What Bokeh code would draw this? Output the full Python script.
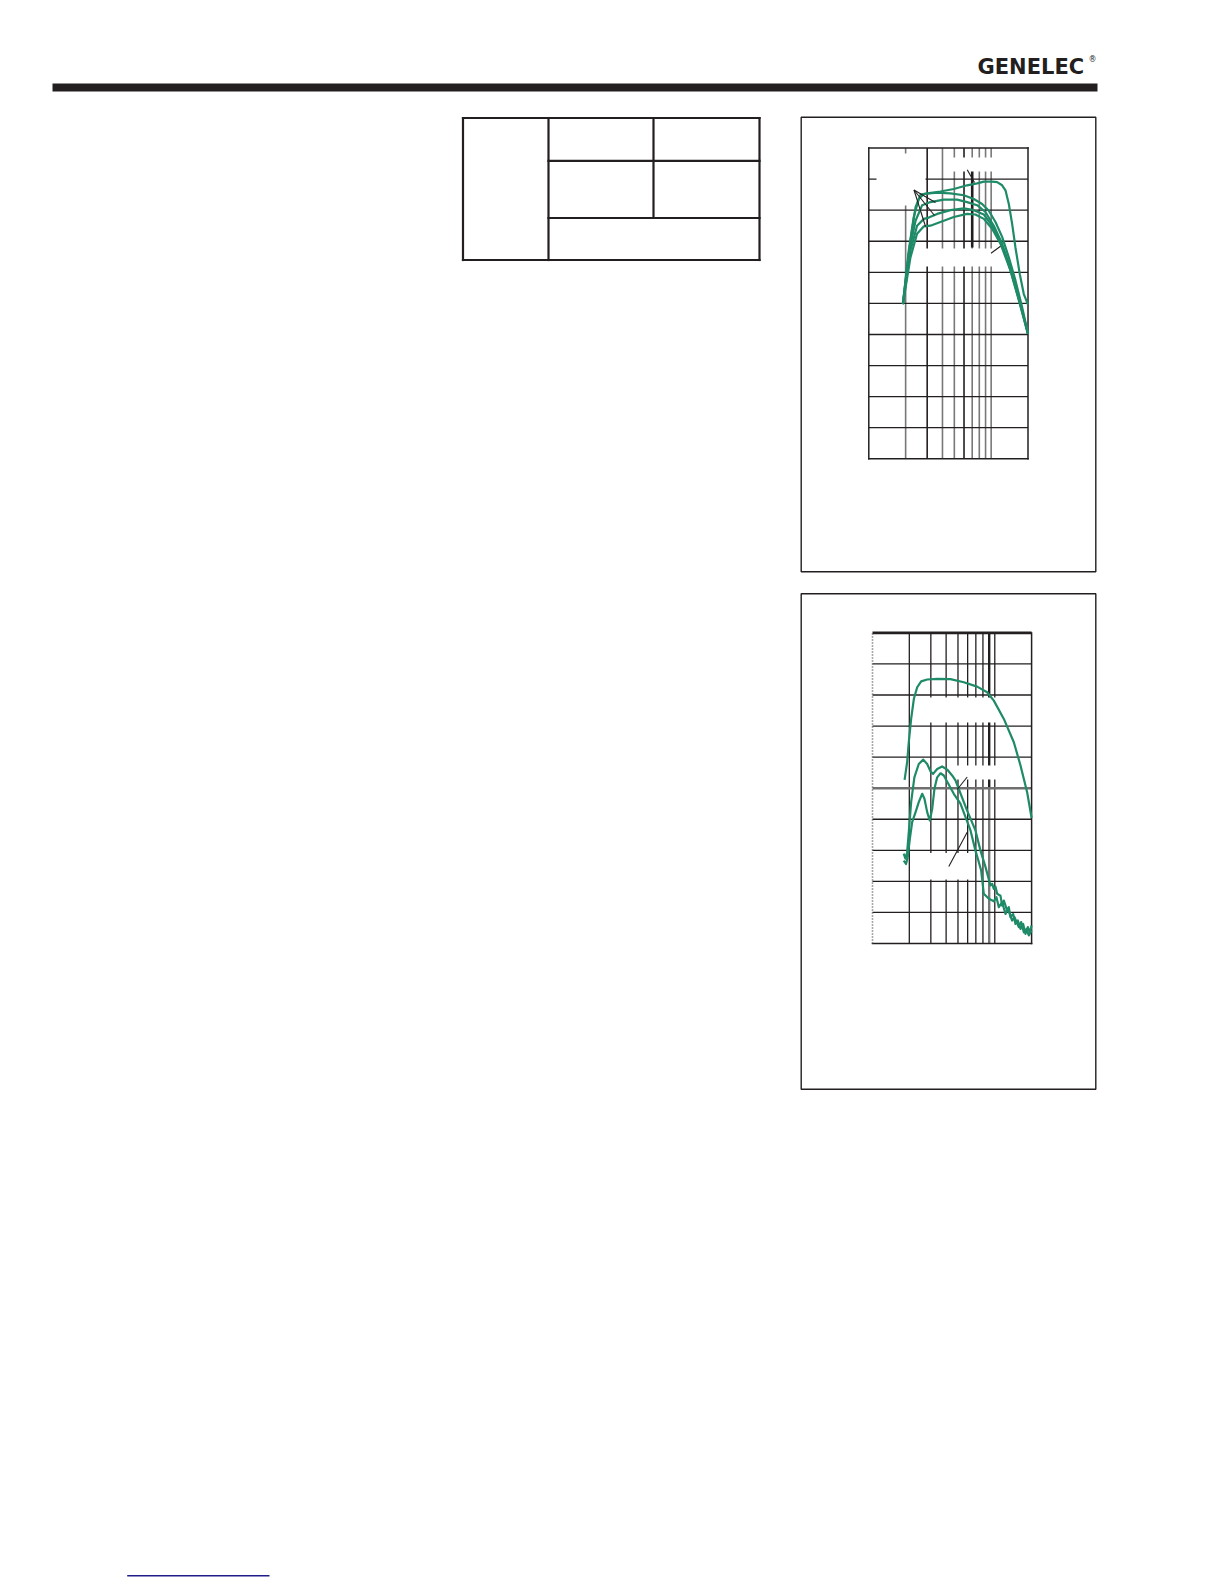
import math
from bokeh.plotting import figure
from bokeh.models import Range1d, LogScale, LinearScale, Label, Grid
from bokeh.embed import file_html
from bokeh.resources import INLINE

# ---------------- data ----------------
# shared frequency axis (Hz, log) of both charts
freq_min, freq_max = 10, 200
freq_grid = [20, 30, 40, 50, 60, 70, 80, 90, 100]

# chart 1: frequency response, dB
resp_min, resp_max = 60, 110
resp_grid = [65, 70, 75, 80, 85, 90, 95, 100, 105]

resp1_f = [19.0, 21.9, 24.1, 26.5, 30.0, 38.5, 49.5, 63.6, 76.8, 87.1, 101.8, 111.9,
           122.9, 130.9, 139.4, 148.4, 157.9, 171.4, 184.8, 200.0]
resp1_db = [84.9, 95.1, 100.5, 102.5, 102.7, 103.0, 103.4, 104.0, 104.3, 104.6, 104.6, 104.5,
            104.0, 103.2, 101.0, 97.8, 94.0, 89.7, 86.5, 84.8]

resp2_f = [19.0, 21.2, 23.3, 25.6, 28.2, 36.2, 46.5, 59.8, 72.1, 84.4, 95.7, 108.4,
           122.9, 139.4, 157.9, 179.1, 200.0]
resp2_db = [84.9, 93.5, 98.9, 101.8, 102.6, 102.8, 102.7, 102.4, 101.8, 101.0, 99.9, 98.1,
            95.7, 92.4, 88.7, 84.4, 80.1]

resp3_f = [19.0, 21.2, 24.1, 27.3, 31.9, 41.0, 52.7, 63.6, 76.8, 89.8, 105.1, 122.9,
           143.8, 168.2, 200.0]
resp3_db = [84.9, 93.0, 98.3, 100.8, 101.3, 101.7, 101.7, 101.3, 100.8, 99.7, 97.5, 94.6,
            90.3, 85.5, 80.1]

resp4_f = [19.0, 21.9, 24.8, 28.2, 30.9, 36.2, 46.5, 59.8, 72.1, 87.1, 101.8, 119.1,
           143.8, 168.2, 200.0]
resp4_db = [84.9, 93.5, 97.5, 98.6, 98.8, 99.4, 100.0, 100.3, 100.0, 99.3, 97.5, 95.1,
            90.8, 86.0, 80.1]

resp5_f = [19.0, 21.9, 24.8, 28.2, 31.9, 38.5, 49.5, 63.6, 74.4, 87.1, 101.8, 119.1,
           143.8, 168.2, 200.0]
resp5_db = [84.9, 92.4, 96.2, 97.4, 97.5, 98.1, 98.9, 99.4, 99.3, 98.6, 97.0, 94.6,
            90.3, 85.7, 80.1]

# chart 2: fundamental and harmonic distortion, dB
dist_min, dist_max = 10, 110
dist_grid = [20, 30, 40, 50, 60, 70, 80, 90, 100]

fund_f = [18.3, 19.2, 19.8, 20.7, 21.8, 23.2, 25.0, 28.0, 33.8, 43.4, 55.8, 71.7, 86.6,
          98.2, 118.6, 143.1, 162.3, 183.9, 200.0]
fund_db = [62.7, 68.4, 74.8, 82.3, 88.8, 92.5, 94.4, 95.0, 95.2, 95.1, 94.1, 92.7, 90.9,
           88.2, 82.3, 74.8, 67.3, 58.7, 50.4]

h2_f = [18.0, 18.6, 19.2, 19.8, 20.7, 22.0, 23.9, 26.0, 28.0, 29.8, 31.3, 33.8, 37.1, 40.8,
        44.8, 47.7, 59.4, 69.5, 76.4, 84.0, 92.2, 95.2, 98.2, 101.3, 104.6, 111.3, 114.9,
        118.6, 126.2, 130.2, 134.4, 141.3, 147.7, 154.3, 162.3, 170.6, 178.2, 186.3, 193.4, 200.0]
h2_db = [38.9, 37.3, 39.4, 45.8, 55.5, 63.5, 67.8, 69.2, 67.8, 65.4, 64.6, 66.2, 67.0, 66.0,
         64.1, 62.5, 52.8, 46.4, 39.9, 34.6, 28.7, 29.2, 27.6, 28.3, 26.0, 25.4, 22.2,
         23.8, 20.6, 21.7, 18.5, 19.5, 16.3, 17.4, 14.7, 16.3, 13.1, 15.3, 13.6, 15.8]

h3_f = [18.0, 18.8, 19.4, 20.2, 21.1, 22.5, 23.9, 25.5, 26.6, 28.0, 29.4, 30.8, 32.1, 33.8,
        36.0, 38.3, 40.3, 46.2, 52.4, 63.3, 69.5, 72.7, 77.4, 81.3, 89.4, 98.2, 103.2,
        107.9, 114.9, 122.3, 127.8, 138.7, 145.0, 157.2, 164.3, 172.8, 181.7, 189.8, 200.0]
h3_db = [36.7, 35.6, 37.8, 43.7, 49.1, 52.3, 55.5, 58.2, 56.6, 52.3, 49.6, 53.4, 59.8, 63.5,
         64.8, 64.1, 62.5, 58.2, 55.0, 46.4, 39.9, 37.3, 33.5, 26.0, 24.4, 23.6, 24.9,
         21.7, 23.3, 19.5, 21.2, 17.4, 18.5, 15.3, 16.9, 13.6, 14.7, 12.6, 14.2]

# ---------------- page layout (reference pixel coordinates) ----------------
W, H = 1216, 1580
X0, X1 = 0, W
Y0, Y1 = 0, H

INK = "#231f20"
GREEN = "#1f8a68"
GREY = "#787878"

p = figure(width=W, height=H, x_range=Range1d(X0, X1), y_range=Range1d(Y1, Y0),
           output_backend="svg", toolbar_location=None, min_border=0,
           x_axis_location=None, y_axis_location=None)
p.center = [r for r in p.center if not isinstance(r, Grid)]
p.outline_line_color = None
p.background_fill_color = "white"
p.border_fill_color = "white"


def chart_ranges(box, fmin, fmax, vmin, vmax):
    left, right, top, bottom = box
    lo, hi = math.log10(fmin), math.log10(fmax)
    ppd = (right - left) / (hi - lo)
    s = lo - (left - X0) / ppd
    e = lo + (X1 - left) / ppd
    ppv = (bottom - top) / (vmax - vmin)
    vb = vmin - (Y1 - bottom) / ppv
    vt = vmax + (top - Y0) / ppv
    return Range1d(10 ** s, 10 ** e), Range1d(vb, vt)


BOX1 = (868.3, 1027.5, 147.5, 458.3)
BOX2 = (872.0, 1031.1, 632.4, 943.0)
xr1, yr1 = chart_ranges(BOX1, freq_min, freq_max, resp_min, resp_max)
xr2, yr2 = chart_ranges(BOX2, freq_min, freq_max, dist_min, dist_max)
p.extra_x_ranges = {"c1": xr1, "c2": xr2}
p.extra_y_ranges = {"c1": yr1, "c2": yr2}
p.extra_x_scales = {"c1": LogScale(), "c2": LogScale()}
p.extra_y_scales = {"c1": LinearScale(), "c2": LinearScale()}
k1 = dict(x_range_name="c1", y_range_name="c1")
k2 = dict(x_range_name="c2", y_range_name="c2")

# header bar and logo
p.quad(left=[52], right=[1097], top=[83], bottom=[91], fill_color=INK, line_color=None)
p.add_layout(Label(x=977, y=66, text="GENELEC", text_font="DejaVu Sans",
                   text_font_style="bold", text_font_size="21px", text_color=INK,
                   text_baseline="alphabetic", text_align="left"))
p.add_layout(Label(x=1088, y=59, text="®", text_font="DejaVu Sans",
                   text_font_size="8px", text_color=INK,
                   text_baseline="alphabetic", text_align="left"))

# table outline
p.segment(x0=[462.5, 462.5, 462.5, 759, 548, 653, 548, 548],
          x1=[759, 759, 462.5, 759, 548, 653, 759, 759],
          y0=[117.5, 259.5, 117.5, 117.5, 117.5, 117.5, 160.4, 217.5],
          y1=[117.5, 259.5, 259.5, 259.5, 259.5, 217.5, 160.4, 217.5],
          line_color=INK, line_width=2.2, line_cap="square")

# panel boxes
for top, bottom in [(116.7, 571.3), (593.3, 1088.7)]:
    p.quad(left=[800.7], right=[1095.3], top=[top], bottom=[bottom],
           fill_color=None, line_color=INK, line_width=1.4)

# footer link line
p.segment(x0=[126.7], x1=[269], y0=[1575.3], y1=[1575.3], line_color="#1e1e8a", line_width=1.4)

# ---- chart 1 grid ----
n = len(freq_grid)
c1_vcol = [GREY, INK, GREY, GREY, INK, GREY, GREY, GREY, GREY]
p.segment(x0=freq_grid, x1=freq_grid, y0=[resp_min] * n, y1=[resp_max] * n,
          line_color=c1_vcol, line_width=1.6, **k1)
p.segment(x0=[70], x1=[70], y0=[94.0], y1=[106.4], line_color=INK, line_width=2.6, **k1)
m = len(resp_grid)
p.segment(x0=[freq_min] * m, x1=[freq_max] * m, y0=resp_grid, y1=resp_grid,
          line_color=INK, line_width=1.3, **k1)

# ---- chart 2 grid ----
p.segment(x0=freq_grid, x1=freq_grid, y0=[dist_min] * n, y1=[dist_max] * n,
          line_color=INK, line_width=1.3, **k2)
p.segment(x0=[90, 90], x1=[90, 90], y0=[60, dist_min], y1=[dist_max, 60],
          line_color=[INK, GREY], line_width=2.4, **k2)
m2 = len(dist_grid)
p.segment(x0=[freq_min] * m2, x1=[freq_max] * m2, y0=dist_grid, y1=dist_grid,
          line_color=[INK, INK, INK, INK, "#707070", INK, INK, INK, INK],
          line_width=[1.3, 1.3, 1.3, 1.3, 2.4, 1.3, 1.3, 1.3, 1.3], **k2)

# white label backgrounds that interrupt the grid (from the original page)
p.quad(left=[876, 950, 924, 926, 955, 926], right=[925, 994, 992, 997, 997, 970],
       top=[153, 157, 248, 697, 765, 852.5], bottom=[205, 171, 266, 722, 779, 879],
       fill_color="white", line_color=None)

# chart frames
p.segment(x0=[freq_min, freq_min, freq_max, freq_min], x1=[freq_max, freq_max, freq_max, freq_min],
          y0=[resp_max, resp_min, resp_min, resp_min], y1=[resp_max, resp_min, resp_max, resp_max],
          line_color=INK, line_width=1.5, line_cap="square", **k1)
p.segment(x0=[freq_min, freq_max], x1=[freq_max, freq_max],
          y0=[dist_min, dist_min], y1=[dist_min, dist_max],
          line_color=INK, line_width=1.5, line_cap="square", **k2)
p.segment(x0=[freq_min], x1=[freq_max], y0=[dist_max], y1=[dist_max],
          line_color=INK, line_width=2.6, **k2)
p.segment(x0=[freq_min], x1=[freq_min], y0=[dist_min], y1=[dist_max],
          line_color="#555555", line_width=1.6, line_dash="1 2", **k2)

# ---- curves ----
for fx, dy in [(resp1_f, resp1_db), (resp2_f, resp2_db), (resp3_f, resp3_db),
               (resp4_f, resp4_db), (resp5_f, resp5_db)]:
    p.line(fx, dy, line_color=GREEN, line_width=2.2, line_join="round", **k1)

for fx, dy in [(fund_f, fund_db), (h2_f, h2_db), (h3_f, h3_db)]:
    p.line(fx, dy, line_color=GREEN, line_width=2.2, line_join="round", **k2)

# leader lines of the (removed) curve labels
p.segment(x0=[913.5, 913.5, 913.5, 966.7, 990.5, 948.3, 956.7],
          x1=[935, 934, 925, 974, 1000, 966.7, 966.7],
          y0=[189.5, 189.5, 189.5, 169.3, 252.7, 866, 789],
          y1=[202, 215, 226, 182, 245.7, 831.7, 776.5],
          line_color=INK, line_width=1.1)

open("out.html", "w").write(file_html(p, INLINE))
